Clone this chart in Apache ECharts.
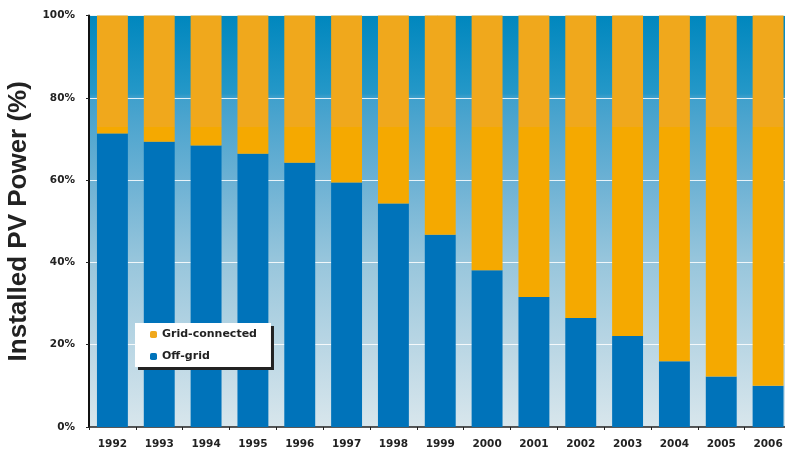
<!DOCTYPE html>
<html>
<head>
<meta charset="utf-8">
<script src="https://cdn.jsdelivr.net/npm/echarts@6/dist/echarts.min.js"></script>
<style>html,body{margin:0;padding:0;background:#fff;}#c{width:785px;height:455px;}</style>
</head>
<body>
<div id="c"></div>
<script>
const years = ['1992','1993','1994','1995','1996','1997','1998','1999','2000','2001','2002','2003','2004','2005','2006'];
const offGrid = [71.3, 69.3, 68.4, 66.4, 64.2, 59.4, 54.3, 46.7, 38.1, 31.6, 26.5, 22.1, 16.0, 12.3, 10.0];
const gridConnected = offGrid.map(v => +(100 - v).toFixed(1));
const yTicks = [0, 20, 40, 60, 80, 100];

const chart = echarts.init(document.getElementById('c'));
const labelFont = { fontFamily: 'DejaVu Sans', fontWeight: 'bold', fontSize: 10.5, color: '#222' };
chart.setOption({
  animation: false,
  grid: {
    left: 89, top: 15.5, width: 702.5, height: 411.5,
    outerBoundsMode: 'none',
    containLabel: false,
    show: true, borderWidth: 0,
    backgroundColor: {
      type: 'linear', x: 0, y: 0, x2: 0, y2: 1,
      colorStops: [
        { offset: 0, color: '#0087be' },
        { offset: 0.19, color: '#2598c8' },
        { offset: 0.2, color: '#40a0cc' },
        { offset: 0.4, color: '#6cb1d4' },
        { offset: 0.6, color: '#98c6dc' },
        { offset: 0.8, color: '#b9d6e4' },
        { offset: 1, color: '#d8e6ec' }
      ]
    }
  },
  legend: {
    orient: 'vertical',
    left: 135, top: 323,
    data: ['Grid-connected', 'Off-grid'],
    itemWidth: 7, itemHeight: 7, itemGap: 11,
    padding: [6, 14, 5, 15],
    backgroundColor: '#fff',
    shadowColor: '#222', shadowOffsetX: 3, shadowOffsetY: 3, shadowBlur: 0,
    textStyle: { fontFamily: 'DejaVu Sans', fontWeight: 'bold', fontSize: 11, color: '#222' }
  },
  xAxis: {
    type: 'category',
    data: years,
    boundaryGap: true,
    axisLine: { lineStyle: { color: '#222', width: 1.5 } },
    axisTick: { show: true, length: 3, lineStyle: { color: '#222' } },
    axisLabel: Object.assign({ margin: 12, interval: 0 }, labelFont),
    splitLine: { show: false }
  },
  yAxis: {
    type: 'value',
    min: yTicks[0], max: yTicks[yTicks.length - 1], interval: 20,
    name: 'Installed PV Power (%)',
    nameLocation: 'middle',
    nameGap: 50,
    nameTextStyle: { fontFamily: 'Liberation Sans', fontWeight: 'bold', fontSize: 26, color: '#222' },
    axisLine: { show: true, lineStyle: { color: '#111', width: 2 } },
    axisTick: { show: true, length: 3, lineStyle: { color: '#222' } },
    axisLabel: Object.assign({ margin: 14, formatter: '{value}%' }, labelFont),
    splitLine: { show: true, lineStyle: { color: 'rgba(255,255,255,0.85)', width: 1 } }
  },
  series: [
    {
      name: 'Off-grid', type: 'bar', stack: 'total', data: offGrid,
      barWidth: '66%',
      itemStyle: { color: '#0073ba' }
    },
    {
      name: 'Grid-connected', type: 'bar', stack: 'total', data: gridConnected,
      barWidth: '66%',
      itemStyle: {
        color: {
          type: 'linear', x: 0, y: 0, x2: 0, y2: 455, global: true,
          colorStops: [
            { offset: 0, color: '#f0a81c' },
            { offset: 127 / 455, color: '#f0a81c' },
            { offset: 127 / 455, color: '#f5a900' },
            { offset: 1, color: '#f5a900' }
          ]
        }
      }
    }
  ]
});
</script>
</body>
</html>
